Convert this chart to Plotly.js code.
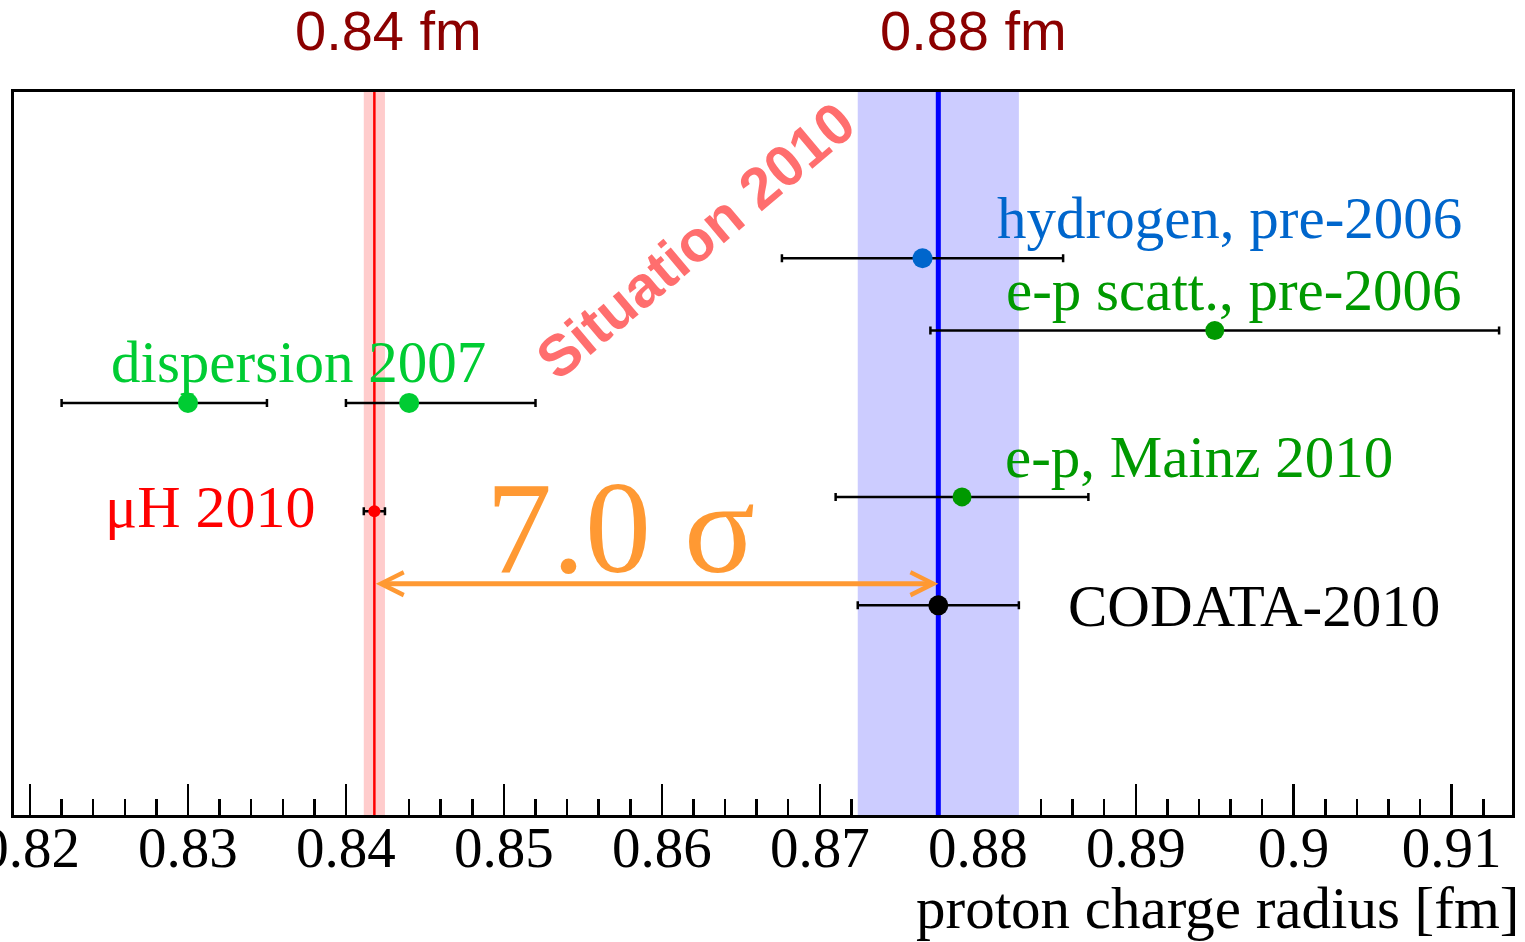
<!DOCTYPE html>
<html>
<head>
<meta charset="utf-8">
<script src="https://cdn.plot.ly/plotly-3.0.1.min.js"></script>
<style>
  html, body { margin: 0; padding: 0; background: #ffffff; }
  #chart { width: 1525px; height: 942px; }
</style>
</head>
<body>
<div id="chart"></div>
<script>
// Proton charge radius determinations (fm)
const labels   = ['hydrogen, pre-2006', 'e-p scatt., pre-2006', 'dispersion 2007', 'dispersion 2007', 'e-p, Mainz 2010', 'μH 2010', 'CODATA-2010'];
const radius   = [0.8765, 0.895, 0.830, 0.844, 0.879, 0.8418, 0.8775];
const errPlus  = [0.0089, 0.018, 0.005, 0.008, 0.008, 0.00067, 0.0051];
const errMinus = [0.0089, 0.018, 0.008, 0.004, 0.008, 0.00067, 0.0051];
const rowLevel = [23, 33, 43, 43, 56, 58, 71];

const xTickVals = [0.82, 0.83, 0.84, 0.85, 0.86, 0.87, 0.88, 0.89, 0.90, 0.91];
const xTickText = ['0.82', '0.83', '0.84', '0.85', '0.86', '0.87', '0.88', '0.89', '0.9', '0.91'];

const sigmaText = '7.0 σ';
const IDX_MUH = 5, IDX_CODATA = 6;

// marker styling per measurement
const markerColor = ['#0066cc', '#009900', '#00cc33', '#00cc33', '#009900', '#ff0000', '#000000'];
const markerSize  = [20, 19, 20, 20, 19, 12, 20];

const xRange = [0.818987, 0.913817];

// bands of the two reference values hide the axis ticks beneath them
function underBand(v) {
  return Math.abs(v - radius[IDX_MUH]) <= errPlus[IDX_MUH] + 1e-6 ||
         Math.abs(v - radius[IDX_CODATA]) <= errPlus[IDX_CODATA] + 1e-6;
}
const majorTicksShown = xTickVals.filter(v => !underBand(v));
const minorTicksShown = [];
for (let k = 409; k <= 457; k++) {
  const v = +(k * 0.002).toFixed(3);
  if (k % 5 === 0) continue;
  if (!underBand(v)) minorTicksShown.push(v);
}

const traces = radius.map((r, i) => ({
  type: 'scatter',
  mode: 'markers',
  x: [r],
  y: [rowLevel[i]],
  name: labels[i],
  marker: { color: markerColor[i], size: markerSize[i], line: { width: 0 } },
  error_x: {
    type: 'data', symmetric: false,
    array: [errPlus[i]], arrayminus: [errMinus[i]],
    color: '#000000', thickness: 2.5, width: 4
  },
  hoverinfo: 'skip',
  showlegend: false
}));
// carrier trace for the tick-mark axis
traces.push({ type: 'scatter', mode: 'markers', x: [], y: [], xaxis: 'x2', yaxis: 'y', showlegend: false, hoverinfo: 'skip' });

const serif = 'Liberation Serif, Times New Roman, serif';
const sans  = 'Liberation Sans, Arial, sans-serif';

const shapes = [
  { type: 'rect', xref: 'x', yref: 'paper', layer: 'below',
    x0: radius[IDX_CODATA] - errMinus[IDX_CODATA], x1: radius[IDX_CODATA] + errPlus[IDX_CODATA], y0: 0, y1: 1,
    fillcolor: '#ccccff', line: { width: 0 } },
  { type: 'rect', xref: 'x', yref: 'paper', layer: 'below',
    x0: radius[IDX_MUH] - errMinus[IDX_MUH], x1: radius[IDX_MUH] + errPlus[IDX_MUH], y0: 0, y1: 1,
    fillcolor: '#ffcccc', line: { width: 0 } },
  { type: 'line', xref: 'x', yref: 'paper', layer: 'below',
    x0: radius[IDX_CODATA], x1: radius[IDX_CODATA], y0: 0, y1: 1,
    line: { color: '#0000ff', width: 5 } },
  { type: 'line', xref: 'x', yref: 'paper', layer: 'below',
    x0: radius[IDX_MUH], x1: radius[IDX_MUH], y0: 0, y1: 1,
    line: { color: '#ff0000', width: 2.5 } }
];

const annotations = [
  { text: labels[0], x: 0.9108, y: 17.4, xanchor: 'right', yanchor: 'middle', font: { family: serif, size: 59, color: '#0066cc' } },
  { text: labels[1], x: 0.9107, y: 27.4, xanchor: 'right', yanchor: 'middle', font: { family: serif, size: 59, color: '#009900' } },
  { text: labels[2], x: 0.8370, y: 37.3, xanchor: 'center', yanchor: 'middle', font: { family: serif, size: 59, color: '#00cc33' } },
  { text: labels[4], x: 0.8940, y: 50.5, xanchor: 'center', yanchor: 'middle', font: { family: serif, size: 59, color: '#009900' } },
  { text: labels[5], x: 0.8314, y: 57.4, xanchor: 'center', yanchor: 'middle', font: { family: serif, size: 60, color: '#ff0000' } },
  { text: labels[6], x: 0.8975, y: 71.1, xanchor: 'center', yanchor: 'middle', font: { family: serif, size: 59, color: '#000000' } },
  { text: sigmaText, x: 0.8574, y: 60.2, xanchor: 'center', yanchor: 'middle', font: { family: serif, size: 132, color: '#ff9933' } },
  { text: '<b>Situation 2010</b>', x: 0.8621, y: 20.6, xanchor: 'center', yanchor: 'middle', textangle: -40,
    font: { family: sans, size: 58, color: '#ff6e6e' } },
  // double-headed arrow spanning the two reference values
  { text: '', x: radius[IDX_CODATA], y: 68, ax: radius[IDX_MUH], ay: 68, axref: 'x', ayref: 'y',
    showarrow: true, arrowside: 'end+start', arrowhead: 5, startarrowhead: 5,
    arrowsize: 0.9, startarrowsize: 0.9, arrowwidth: 5, arrowcolor: '#ff9933',
    standoff: 0, startstandoff: 0 },
  // reference values above the frame
  { text: '0.84 fm', xref: 'x', yref: 'paper', x: 0.8427, y: 1.085, xanchor: 'center', yanchor: 'middle',
    font: { family: sans, size: 56, color: '#8b0000' } },
  { text: '0.88 fm', xref: 'x', yref: 'paper', x: 0.8797, y: 1.085, xanchor: 'center', yanchor: 'middle',
    font: { family: sans, size: 56, color: '#8b0000' } },
  // axis title, right aligned
  { text: 'proton charge radius [fm]', xref: 'paper', yref: 'paper', x: 1.006, y: -0.128, xanchor: 'right', yanchor: 'middle',
    font: { family: serif, size: 59, color: '#000000' } }
].map(a => Object.assign({ xref: 'x', yref: 'y', showarrow: false }, a));

const layout = {
  width: 1525, height: 942,
  margin: { l: 14, r: 13, t: 92, b: 127, pad: 0 },
  paper_bgcolor: '#ffffff', plot_bgcolor: '#ffffff',
  showlegend: false,
  font: { family: serif, size: 57, color: '#000000' },
  xaxis: {
    range: xRange, tickmode: 'array', tickvals: xTickVals, ticktext: xTickText,
    ticks: '', showline: true, mirror: true, linewidth: 3, linecolor: '#000000',
    showgrid: false, zeroline: false, fixedrange: true,
    ticklabeloverflow: 'allow', ticklabelstandoff: -19,
    tickfont: { family: serif, size: 57, color: '#000000' }
  },
  xaxis2: {
    overlaying: 'x', anchor: 'y', side: 'bottom', range: xRange,
    tickmode: 'array', tickvals: majorTicksShown, showticklabels: false,
    ticks: 'inside', ticklen: 31, tickwidth: 2.5, tickcolor: '#000000',
    showline: false, showgrid: false, zeroline: false, fixedrange: true,
    minor: { tickmode: 'array', tickvals: minorTicksShown, ticks: 'inside', ticklen: 16, tickwidth: 2.5, tickcolor: '#000000', showgrid: false }
  },
  yaxis: {
    range: [100, 0], showline: true, mirror: true, linewidth: 3, linecolor: '#000000',
    ticks: '', showticklabels: false, showgrid: false, zeroline: false, fixedrange: true
  },
  shapes: shapes,
  annotations: annotations
};

Plotly.newPlot('chart', traces, layout, { displayModeBar: false, staticPlot: true });
</script>
</body>
</html>
